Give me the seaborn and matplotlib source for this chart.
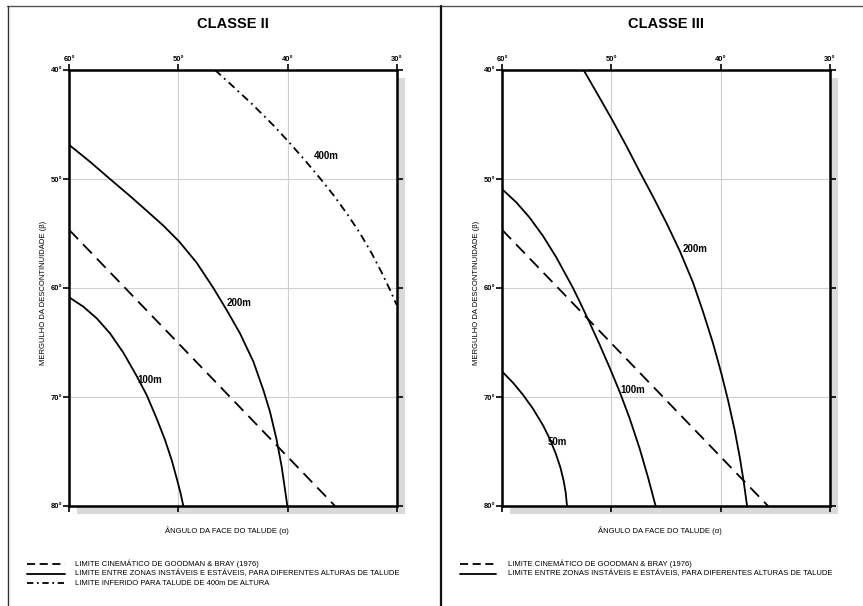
import pandas as pd
import matplotlib
matplotlib.use("Agg")
import matplotlib.pyplot as plt
from matplotlib.patches import Rectangle
from matplotlib.lines import Line2D
import seaborn as sns

# CLASSE II curves (x = ângulo da face alpha, y = mergulho beta)
c2_100_x = [60.00, 58.72, 57.49, 56.27, 55.05, 53.83, 52.91, 52.00, 51.23, 50.62, 50.16, 49.80, 49.55]
c2_100_y = [60.86, 61.71, 62.78, 64.16, 65.93, 68.07, 69.82, 71.96, 73.94, 75.78, 77.46, 78.84, 80.00]
c2_200_x = [60.00, 58.11, 56.27, 54.44, 52.91, 51.38, 49.92, 48.33, 46.80, 45.58, 44.36, 43.13,
            42.22, 41.61, 41.00, 40.54, 40.23, 40.02]
c2_200_y = [46.88, 48.41, 50.00, 51.56, 52.91, 54.28, 55.75, 57.68, 60.00, 62.02, 64.16, 66.76,
            69.36, 71.35, 73.94, 76.39, 78.53, 80.00]
c2_400_x = [46.65, 44.97, 43.13, 41.30, 39.77, 38.25, 37.02, 35.80, 34.58, 33.36, 32.29, 31.37, 30.61, 30.00]
c2_400_y = [40.00, 41.53, 43.24, 45.08, 46.73, 48.47, 49.94, 51.47, 53.15, 54.98, 56.82, 58.59, 60.18, 61.56]

# CLASSE III curves
c3_50_x = [60.00, 59.02, 58.11, 57.19, 56.27, 55.66, 55.11, 54.68, 54.38, 54.19, 54.07]
c3_50_y = [67.68, 68.69, 69.79, 71.07, 72.60, 73.82, 75.17, 76.45, 77.68, 78.78, 80.00]
c3_100_x = [60.00, 58.72, 57.49, 56.27, 55.05, 53.52, 52.85, 52.00, 51.08, 50.16, 49.25, 48.33,
            47.41, 46.65, 45.95]
c3_100_y = [50.95, 52.14, 53.55, 55.23, 57.19, 60.00, 61.38, 63.18, 65.20, 67.31, 69.51, 71.96,
            74.74, 77.37, 80.00]
c3_200_x = [52.55, 51.23, 49.92, 48.63, 47.41, 46.19, 44.97, 43.75, 42.52, 41.61, 40.69, 39.93,
            39.32, 38.71, 38.25, 37.88, 37.57]
c3_200_y = [40.00, 42.29, 44.59, 46.97, 49.33, 51.62, 54.01, 56.57, 59.51, 62.17, 65.08, 67.83,
            70.28, 73.03, 75.47, 77.77, 80.00]

# Goodman & Bray kinematic limit (same on both panels)
gb_x = [60.0, 35.65]
gb_y = [54.68, 80.0]

x_ticks = [60, 50, 40, 30]
y_ticks = [40, 50, 60, 70, 80]

labels_c2 = [("400m", 36.41, 47.89), ("200m", 44.45, 61.35), ("100m", 52.67, 68.44)]
labels_c3 = [("200m", 42.31, 56.45), ("100m", 48.08, 69.36), ("50m", 54.96, 74.1)]

legend_texts = [
    "LIMITE CINEMÁTICO DE GOODMAN & BRAY (1976)",
    "LIMITE ENTRE ZONAS INSTÁVEIS E ESTÁVEIS, PARA DIFERENTES ALTURAS DE TALUDE",
    "LIMITE INFERIDO PARA TALUDE DE 400m DE ALTURA",
]

sns.set_theme(style="white")
plt.rcParams["font.family"] = ["Liberation Sans", "DejaVu Sans"]
plt.rcParams["text.color"] = "black"
plt.rcParams["xtick.color"] = "black"
plt.rcParams["ytick.color"] = "black"

fig = plt.figure(figsize=(8.63, 6.06), dpi=100)
W, H = 863.0, 606.0

DASH = (0, (7, 4))
DASHDOT = (0, (4.4, 2.4, 1.0, 2.4))


def curve_df(x, y):
    return pd.DataFrame({"alpha": x, "beta": y})


def make_panel(left_px, title, curves, labels):
    l = left_px / W
    b = (H - 506) / H
    w = 327.4 / W
    h = 436 / H
    # drop shadow
    fig.patches.append(Rectangle((l + 8 / W, b - 8 / H), w, h, transform=fig.transFigure,
                                 facecolor="#d9d9d9", edgecolor="none", zorder=-1))
    ax = fig.add_axes([l, b, w, h])
    ax.set_facecolor("white")
    for x, y, ls in curves:
        sns.lineplot(data=curve_df(x, y), x="alpha", y="beta", sort=False, estimator=None,
                     color="black", linewidth=1.3, linestyle=ls, ax=ax)
    ax.set_xlim(60, 30)
    ax.set_ylim(80, 40)
    ax.set_xticks(x_ticks)
    ax.set_yticks(y_ticks)
    ax.set_xticklabels([f"{t}°" for t in x_ticks], fontsize=5.5, fontweight="bold")
    ax.set_yticklabels([f"{t}°" for t in y_ticks], fontsize=5.5, fontweight="bold")
    ax.xaxis.set_ticks_position("both")
    ax.yaxis.set_ticks_position("both")
    ax.tick_params(axis="x", labeltop=True, labelbottom=False, direction="out",
                   length=4, width=1.2, pad=1, color="black")
    ax.tick_params(axis="y", labelleft=True, labelright=False, direction="out",
                   length=4, width=1.2, pad=1, color="black")
    ax.grid(True, color="#d0d0d0", linewidth=0.8)
    ax.set_axisbelow(True)
    for s in ax.spines.values():
        s.set_visible(True)
        s.set_color("black")
        s.set_linewidth(1.8)
    ax.set_xlabel("")
    ax.set_ylabel("")
    for txt, x, y in labels:
        ax.text(x, y, txt, fontsize=7, fontweight="bold", ha="center", va="center")
    cx = (left_px + 327.4 / 2) / W
    fig.text(cx, 1 - 24 / H, title, fontsize=10.5, fontweight="bold", ha="center", va="center")
    fig.text((left_px + 158) / W, 1 - 531 / H, "ÂNGULO DA FACE DO TALUDE (α)",
             fontsize=5.5, ha="center", va="center")
    fig.text((left_px - 26) / W, 1 - 293 / H, "MERGULHO DA DESCONTINUIDADE (β)",
             fontsize=5.5, ha="center", va="center", rotation=90)
    return ax


make_panel(69.3, "CLASSE II",
           [(gb_x, gb_y, DASH), (c2_100_x, c2_100_y, "-"), (c2_200_x, c2_200_y, "-"),
            (c2_400_x, c2_400_y, DASHDOT)], labels_c2)
make_panel(502.3, "CLASSE III",
           [(gb_x, gb_y, DASH), (c3_50_x, c3_50_y, "-"), (c3_100_x, c3_100_y, "-"),
            (c3_200_x, c3_200_y, "-")], labels_c3)

# legends
styles = [(0, (4.5, 2.5)), "-", (0, (3.5, 2.0, 1.0, 2.0))]
rows_y = [564, 573.5, 583.3]
for x0, x1, xt, n in [(27, 65, 75, 3), (460, 496, 508, 2)]:
    for i in range(n):
        yy = 1 - rows_y[i] / H
        fig.add_artist(Line2D([x0 / W, x1 / W], [yy, yy], color="black", linewidth=1.3,
                              linestyle=styles[i], transform=fig.transFigure))
        fig.text(xt / W, yy, legend_texts[i], fontsize=5.5, ha="left", va="center")

# page frame
fig.add_artist(Line2D([7 / W, 1], [1 - 6 / H, 1 - 6 / H], color="#555555", linewidth=1.0,
                      transform=fig.transFigure))
fig.add_artist(Line2D([7.5 / W, 7.5 / W], [0, 1 - 6 / H], color="#333333", linewidth=1.0,
                      transform=fig.transFigure))
fig.add_artist(Line2D([441 / W, 441 / W], [0, 1 - 6 / H], color="#111111", linewidth=1.6,
                      transform=fig.transFigure))

fig.savefig("out.png", dpi=100)
